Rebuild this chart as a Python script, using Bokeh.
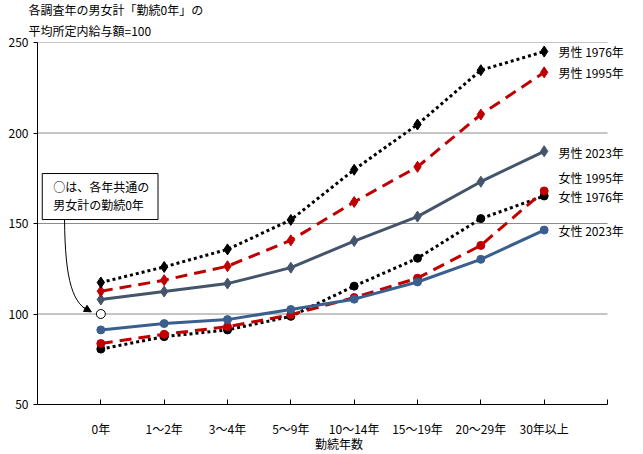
from bokeh.plotting import figure
from bokeh.models import Range1d, FixedTicker, Label, Arrow, NormalHead, Title
from bokeh.core.properties import value
from bokeh.embed import file_html
from bokeh.resources import INLINE

# ---- data ----
categories = ["0年", "1～2年", "3～4年", "5～9年", "10～14年", "15～19年", "20～29年", "30年以上"]
male_1976 = [117.4, 126.0, 135.7, 152.0, 179.7, 204.7, 234.7, 245.0]
male_1995 = [112.6, 118.7, 126.4, 140.7, 161.9, 181.3, 210.2, 233.5]
male_2023 = [108.0, 112.4, 116.8, 125.6, 140.3, 153.8, 173.1, 189.9]
female_1976 = [80.6, 87.5, 91.2, 98.7, 115.4, 130.8, 152.7, 165.2]
female_1995 = [83.7, 88.8, 93.0, 99.6, 109.1, 119.8, 137.9, 168.0]
female_2023 = [91.2, 94.7, 96.9, 102.5, 108.2, 117.7, 130.2, 146.4]
base_value = 100
y_ticks = [50, 100, 150, 200, 250]
series_labels = ["男性 1976年", "男性 1995年", "男性 2023年", "女性 1995年", "女性 1976年", "女性 2023年"]

FONT = "Noto Sans CJK JP"
xs = list(range(len(categories)))
n = len(categories)

p = figure(width=640, height=454, x_range=Range1d(-1, n + 0.521), y_range=Range1d(50, 250),
           output_backend="svg", toolbar_location=None,
           min_border_left=37, min_border_right=0, min_border_top=40, min_border_bottom=50)
p.outline_line_color = None
p.background_fill_color = "white"

# titles (two lines, above the frame)
p.title.text = "各調査年の男女計「勤続0年」の"
p.title.align = "left"
p.title.offset = -9
p.title.standoff = -4
p.title.text_font = FONT
p.title.text_font_size = "12px"
p.title.text_font_style = "normal"
p.title.text_color = "black"
p.add_layout(Title(text="平均所定内給与額=100", align="left", offset=-9, standoff=8,
                   text_font=FONT, text_font_size="12px", text_font_style="normal",
                   text_color="black"), "above")

# axes
p.xaxis.bounds = (-1, n)
p.xaxis.ticker = FixedTicker(ticks=list(range(n + 1)))
overrides = {i: c for i, c in enumerate(categories)}
overrides[n] = ""
p.xaxis.major_label_overrides = overrides
p.xaxis.major_tick_in = 5
p.xaxis.major_tick_out = 0
p.xaxis.minor_tick_line_color = None
p.xaxis.axis_line_color = "black"
p.xaxis.major_tick_line_color = "black"
p.xaxis.major_label_standoff = 15
p.xaxis.major_label_text_font = FONT
p.xaxis.major_label_text_font_size = "12px"
p.xaxis.major_label_text_color = "black"
p.xaxis.axis_label = "勤続年数"
p.xaxis.axis_label_standoff = -5
p.xaxis.axis_label_text_font = FONT
p.xaxis.axis_label_text_font_size = "12px"
p.xaxis.axis_label_text_font_style = "normal"
p.xaxis.axis_label_text_color = "black"

p.yaxis.bounds = (50, 250)
p.yaxis.ticker = FixedTicker(ticks=y_ticks)
p.yaxis.major_tick_in = 0
p.yaxis.major_tick_out = 4
p.yaxis.minor_tick_line_color = None
p.yaxis.axis_line_color = "black"
p.yaxis.major_tick_line_color = "black"
p.yaxis.major_label_standoff = 5
p.yaxis.major_label_text_font = FONT
p.yaxis.major_label_text_font_size = "12px"
p.yaxis.major_label_text_color = "black"

p.xgrid.grid_line_color = None
p.ygrid.grid_line_color = None
# horizontal gridlines limited to the category area
p.segment(x0=[-1] * (len(y_ticks) - 1), x1=[n] * (len(y_ticks) - 1), y0=y_ticks[1:], y1=y_ticks[1:],
          line_color="#8c8c8c", line_width=1)

RED = "#c00000"
SLATE = "#44546a"
BLUE = "#3a5f8f"

series = [
    (female_1976, "black", "3 3", "circle", 8),
    (female_1995, RED, "12 7", "circle", 8),
    (female_2023, BLUE, "solid", "circle", 8),
    (male_2023, SLATE, "solid", "diamond", 11),
    (male_1995, RED, "12 7", "diamond", 11),
    (male_1976, "black", "3 3", "diamond", 11),
]
for ys, col, dash, mk, sz in series:
    p.line(xs, ys, line_color=col, line_width=3, line_dash=dash)
    p.scatter(xs, ys, marker=mk, size=sz, fill_color=col, line_color=col)

# base point
p.scatter([0], [base_value], marker="circle", size=9, fill_color="white", line_color="black", line_width=1)

# series labels at right
label_x = n - 1 + 0.226
label_y = [245.3, 233.2, 189.4, 175.2, 164.8, 146.2]
for text, yv in zip(series_labels, label_y):
    p.add_layout(Label(x=label_x, y=yv, text=text, text_baseline="middle", text_align="left",
                       text_font=FONT, text_font_size="12px", text_color="black"))

# annotation box
p.quad(left=[-0.925], right=[0.903], top=[177.6], bottom=[152.2], fill_color="white",
       line_color="black", line_width=1)
p.text(x=[-0.752, -0.752], y=[170.3, 160.4], text=["○は、各年共通の", "男女計の勤続0年"],
       text_font=value(FONT), text_font_size=value("12px"), text_baseline="middle",
       text_align="left", text_color="black")
p.bezier(x0=[-0.573], y0=[152.2], x1=[-0.16], y1=[101.3], cx0=[-0.565], cy0=[118],
         cx1=[-0.44], cy1=[105], line_color="black", line_width=1)
p.add_layout(Arrow(x_start=-0.27, y_start=103.6, x_end=-0.15, y_end=101.2,
                   end=NormalHead(size=7, fill_color="black", line_color="black"),
                   line_color="black", line_width=1))

open("out.html", "w").write(file_html(p, INLINE))
